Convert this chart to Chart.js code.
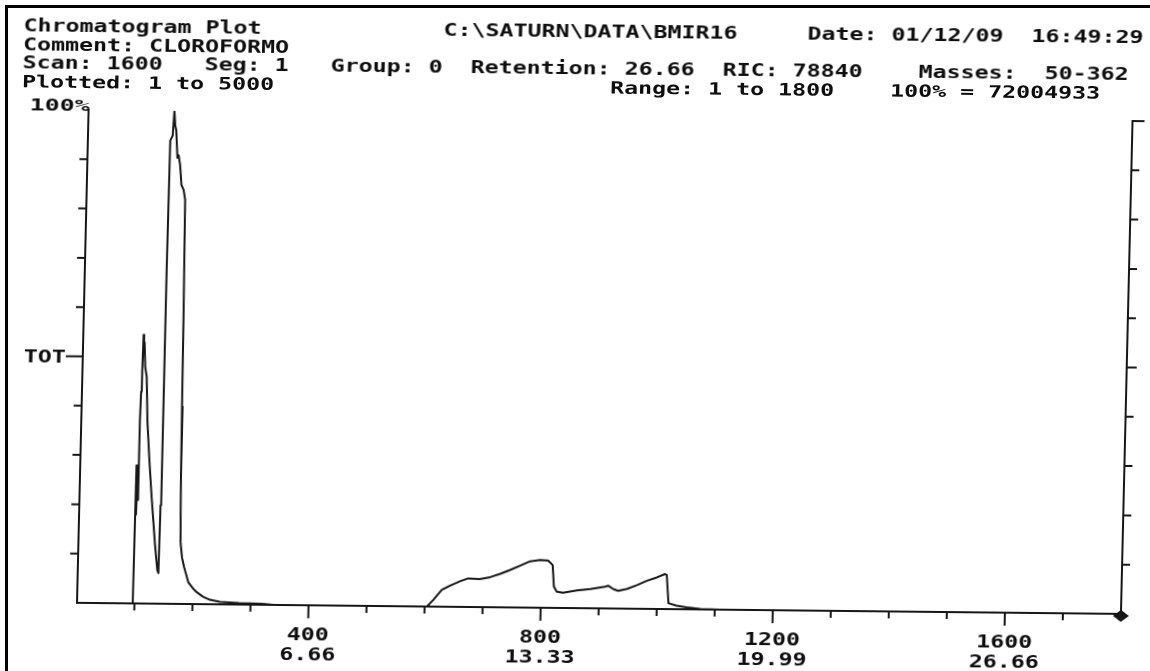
<!DOCTYPE html>
<html>
<head>
<meta charset="utf-8">
<title>Chromatogram Plot</title>
<script src="https://cdn.jsdelivr.net/npm/chart.js@4.4.1/dist/chart.umd.min.js"></script>
<style>
  html, body { margin: 0; padding: 0; background: #fff; overflow: hidden; }
  #page { position: relative; width: 1150px; height: 671px; overflow: hidden; background: #fff; }
  #frame { position: absolute; left: 5px; top: 5px; width: 1200px; height: 700px;
           border-left: 3px solid #000; border-top: 3px solid #000; }
  /* the printout sits slightly skewed on the sheet */
  #sheet { position: absolute; left: 0; top: 0; width: 1150px; height: 671px;
           transform-origin: 77px 603px; transform: matrix(1, 0.0106, -0.0235, 1, 0, 0); }
  #sheet canvas { position: absolute; left: 0; top: 0; }
  .hdr { position: absolute; font: bold 17px "DejaVu Sans Mono", monospace; line-height: 20px;
         white-space: pre; color: #0e0e0e; transform-origin: 0 0; transform: scaleX(1.368); }
</style>
</head>
<body>
<div id="page">
  <div id="sheet">
    <canvas id="chrom" width="1150" height="671"></canvas>
    <div id="header"></div>
  </div>
  <div id="frame"></div>
</div>
<script>
// Total ion current, % of full scale, against scan number
const scanNumbers = [1, 97, 98, 99, 100, 101, 102, 103, 104, 105,
  106, 107, 109, 112, 115, 120, 125, 133, 138, 140,
  141, 142, 143, 147, 149, 151, 153, 156, 158, 161,
  164, 168, 171, 173, 174, 175, 176, 177, 180, 184,
  192, 200, 207, 218, 230, 247, 280, 320, 340, 604,
  615, 629, 643, 660, 674, 694, 712, 729, 746, 763,
  780, 797, 811, 819, 822, 827, 838, 862, 885, 910,
  916, 925, 933, 948, 965, 982, 999, 1013, 1016, 1020,
  1034, 1051, 1075, 1110, 1800];
const totalIonPct = [0, 0, 28, 18, 25, 21, 37, 43, 47, 54.5,
  52, 53, 48, 46, 37, 29, 22, 12, 6.8, 6.2,
  20, 68, 94, 95, 100, 97, 96, 90.5, 91, 89,
  85, 84, 82, 58, 40, 26, 18, 12.5, 9.5, 7.5,
  4.4, 3.2, 2.4, 1.5, 0.9, 0.5, 0.3, 0.2, 0, 0,
  1.4, 3.4, 4.3, 5.2, 5.8, 5.7, 6.1, 6.8, 7.6, 8.5,
  9.4, 9.7, 9.6, 8.7, 4.3, 3.3, 3.1, 3.6, 3.9, 4.4,
  4.6, 3.9, 3.6, 4.0, 4.8, 5.7, 6.4, 7.1, 6.9, 1.2,
  0.7, 0.4, 0.1, 0, 0];

// Axis ranges and ticks
const scanRange = [1, 1800];
const pctRange = [0, 100];
const yTickPct = [10, 20, 30, 40, 50, 60, 70, 80, 90];
const yNamedTick = 50;
const yNamedLabel = 'TOT';
const yTopLabel = '100%';
const xTickScans = [100, 200, 300, 400, 500, 600, 700, 800, 900, 1000,
  1100, 1200, 1300, 1400, 1500, 1600, 1700];
const xMajorScans = [400, 800, 1200, 1600];
const xMajorMinutes = ['6.66', '13.33', '19.99', '26.66'];

// Header block: each row lists [character column, text]
const headerRows = [
  [[0, 'Chromatogram Plot'], [30, 'C:\\SATURN\\DATA\\BMIR16'], [56, 'Date: 01/12/09  16:49:29']],
  [[0, 'Comment: CLOROFORMO']],
  [[0, 'Scan: 1600   Seg: 1   Group: 0  Retention: 26.66  RIC: 78840'], [64, 'Masses:  50-362']],
  [[0, 'Plotted: 1 to 5000'], [42, 'Range: 1 to 1800'], [62, '100% = 72004933']]
];

const INK = '#161616';
const CELL = 14;          // printer character pitch
const FONT = 'bold 17px "DejaVu Sans Mono", monospace';
const WIDE = 1.368;       // horizontal stretch of the printer glyphs

// header text
const header = document.getElementById('header');
headerRows.forEach((row, r) => {
  row.forEach(([col, text]) => {
    const d = document.createElement('div');
    d.className = 'hdr';
    d.textContent = text;
    d.style.left = (9.7 + col * CELL) + 'px';
    d.style.top = (16.4 + r * 18.5) + 'px';
    header.appendChild(d);
  });
});

function wideText(ctx, text, x, y, align, sx) {
  ctx.save();
  ctx.translate(x, y);
  ctx.scale(sx, 1);
  ctx.textAlign = align;
  ctx.textBaseline = 'alphabetic';
  ctx.fillText(text, 0, 0);
  ctx.restore();
}

// Plotter-style frame: axes, outward ticks, labels and end marker
const plotterAxes = {
  id: 'plotterAxes',
  afterDraw(chart) {
    const { ctx, scales: { x, y } } = chart;
    const xL = x.getPixelForValue(scanRange[0]);
    const xR = x.getPixelForValue(scanRange[1]);
    const y0 = y.getPixelForValue(pctRange[0]);
    const yT = y.getPixelForValue(pctRange[1]);
    ctx.save();
    ctx.strokeStyle = INK;
    ctx.fillStyle = INK;
    ctx.lineWidth = 2;
    ctx.lineCap = 'square';
    ctx.lineJoin = 'miter';

    ctx.beginPath();
    ctx.moveTo(xL, yT);
    ctx.lineTo(xL, y0);
    ctx.lineTo(xR, y0);
    ctx.lineTo(xR, yT);
    ctx.lineTo(xR + 11, yT);
    ctx.stroke();

    ctx.beginPath();
    yTickPct.forEach(v => {
      const py = y.getPixelForValue(v);
      const named = v === yNamedTick;
      ctx.moveTo(xL, py); ctx.lineTo(xL - (named ? 16 : 7), py);
      ctx.moveTo(xR, py); ctx.lineTo(xR + (named ? 9 : 7), py);
    });
    xTickScans.forEach(s => {
      const px = x.getPixelForValue(s);
      ctx.moveTo(px, y0); ctx.lineTo(px, y0 + (xMajorScans.includes(s) ? 12 : 6));
    });
    ctx.stroke();

    // end-of-range marker
    ctx.beginPath();
    ctx.moveTo(xR, y0 - 4);
    ctx.lineTo(xR + 8, y0 + 2);
    ctx.lineTo(xR, y0 + 8);
    ctx.lineTo(xR - 8, y0 + 2);
    ctx.closePath();
    ctx.fill();

    ctx.font = FONT;
    ctx.fillStyle = '#0e0e0e';
    xMajorScans.forEach((s, i) => {
      const px = x.getPixelForValue(s);
      wideText(ctx, String(s), px, y0 + 34.5, 'center', WIDE);
      wideText(ctx, xMajorMinutes[i], px, y0 + 54.5, 'center', WIDE);
    });
    wideText(ctx, yNamedLabel, xL - 17, y.getPixelForValue(yNamedTick) + 6.5, 'right', WIDE);
    ctx.font = 'bold 15px "DejaVu Sans Mono", monospace';
    wideText(ctx, yTopLabel, xL + 1, yT + 0.5, 'right', 1.66);
    ctx.restore();
  }
};

new Chart(document.getElementById('chrom'), {
  type: 'line',
  data: {
    datasets: [{
      label: 'TOT',
      data: scanNumbers.map((s, i) => ({ x: s, y: totalIonPct[i] })),
      borderColor: INK,
      borderWidth: 2,
      pointRadius: 0,
      tension: 0,
      fill: false,
      borderJoinStyle: 'round'
    }]
  },
  options: {
    responsive: false,
    animation: false,
    devicePixelRatio: 1,
    layout: { padding: { left: 77, right: 29, top: 110, bottom: 68 } },
    plugins: { legend: { display: false }, tooltip: { enabled: false } },
    scales: {
      x: { type: 'linear', min: scanRange[0], max: scanRange[1], display: false },
      y: { type: 'linear', min: pctRange[0], max: pctRange[1], display: false }
    }
  },
  plugins: [plotterAxes]
});
</script>
</body>
</html>
